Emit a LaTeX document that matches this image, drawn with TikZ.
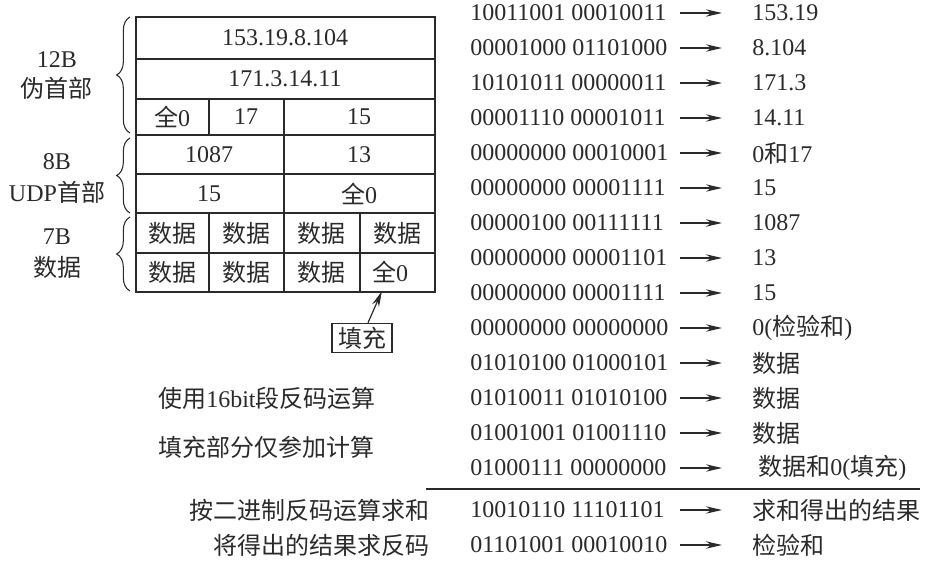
\documentclass[tikz,border=0pt]{standalone}
\usepackage{fontspec}
\setmainfont{Liberation Serif}
\newfontfamily\cjk{Noto Sans CJK SC}
\newcommand\zh[1]{{\cjk #1}}
\usetikzlibrary{arrows.meta,decorations.pathreplacing}
\definecolor{ink}{HTML}{2A2A2A}
\begin{document}
\begin{tikzpicture}[x=0.75pt,y=-0.75pt,
  font=\fontsize{18}{21}\selectfont, text=ink,
  tline/.style={draw=ink,line width=0.9pt},
  arr/.style={draw=ink,line width=0.9pt,-{Stealth[length=12pt,width=5.5pt]}},
  brc/.style={draw=ink,line width=0.8pt,decorate,decoration={brace,amplitude=10pt}},
  cell/.style={inner sep=0pt,anchor=center},
  lft/.style={inner sep=0pt,anchor=west},
  rgt/.style={inner sep=0pt,anchor=east}]
\useasboundingbox (0,0) rectangle (928,574);
% table frame
\draw[tline] (136,17) rectangle (435,292);
\foreach \yy in {59,99,135,174,213,253}
  \draw[tline] (136,\yy) -- (435,\yy);
\draw[tline] (209,99) -- (209,135);
\draw[tline] (284,99) -- (284,292);
\draw[tline] (209,213) -- (209,292);
\draw[tline] (360,213) -- (360,292);
% table texts
\node[cell] (t1) at (285,38) {153.19.8.104};
\node[cell] (t2) at (285,79) {171.3.14.11};
\node[cell] (t3a) at (172,117) {\zh{全}0};
\node[cell] (t3b) at (246,117) {17};
\node[cell] (t3c) at (359,117) {15};
\node[cell] (t4a) at (209,155) {1087};
\node[cell] (t4b) at (359,155) {13};
\node[cell] (t5a) at (209,194) {15};
\node[cell] (t5b) at (359,194) {\zh{全}0};
\node[cell] (t6a) at (172,233) {\zh{数据}};
\node[cell] (t6b) at (246,233) {\zh{数据}};
\node[cell] (t6c) at (321,233) {\zh{数据}};
\node[cell] (t6d) at (397,233) {\zh{数据}};
\node[cell] (t7a) at (172,272) {\zh{数据}};
\node[cell] (t7b) at (246,272) {\zh{数据}};
\node[cell] (t7c) at (321,272) {\zh{数据}};
\node[cell] (t7d) at (390,272) {\zh{全}0};
% braces
\draw[brc] (130,133) -- (130,17);
\draw[brc] (130,213) -- (130,138);
\draw[brc] (130,291) -- (130,217);
\node[cell] (l1a) at (57,60) {12B};
\node[cell] (l1b) at (57,88) {\zh{伪首部}};
\node[cell] (l2a) at (57,162) {8B};
\node[cell] (l2b) at (57,192) {UDP\zh{首部}};
\node[cell] (l3a) at (57,237) {7B};
\node[cell] (l3b) at (57,267) {\zh{数据}};
% fill box
\node[draw=ink,line width=0.9pt,inner sep=0pt,minimum width=45pt,minimum height=22pt] (fill) at (362,338) {\zh{填充}};
\coordinate (filltip) at (382,291);
\draw[arr] ([xshift=4.5pt]fill.north) -- (filltip);
% right column
\foreach \i/\b/\v in {
 0/10011001 00010011/153.19,
 1/00001000 01101000/8.104,
 2/10101011 00000011/171.3,
 3/00001110 00001011/14.11,
 4/00000000 00010001/0\zh{和}17,
 5/00000000 00001111/15,
 6/00000100 00111111/1087,
 7/00000000 00001101/13,
 8/00000000 00001111/15,
 9/00000000 00000000/0(\zh{检验和}),
 10/01010100 01000101/\zh{数据},
 11/01010011 01010100/\zh{数据},
 12/01001001 01001110/\zh{数据}}
{
  \pgfmathsetmacro\yy{13+35*\i}
  \node[lft] (b\i) at (470,\yy) {\b};
  \node[lft] (v\i) at (752,\yy) {\v};
  \coordinate (s\i) at (680,\yy);
  \coordinate (e\i) at (722,\yy);
  \draw[arr] (s\i) -- (e\i);
}
\node[lft] (b13) at (470,468) {01000111 00000000};
\node[lft] (v13) at (758,468) {\zh{数据和}0(\zh{填充})};
\coordinate (s13) at (680,468);
\coordinate (e13) at (722,468);
\draw[arr] (s13) -- (e13);
% sum line
\coordinate (ls) at (426,489);
\coordinate (le) at (920,489);
\draw[tline] (ls) -- (le);
\node[lft] (b14) at (470,510) {10010110 11101101};
\node[lft] (v14) at (752,510) {\zh{求和得出的结果}};
\coordinate (s14) at (680,510);
\coordinate (e14) at (722,510);
\draw[arr] (s14) -- (e14);
\node[lft] (b15) at (470,545) {01101001 00010010};
\node[lft] (v15) at (752,545) {\zh{检验和}};
\coordinate (s15) at (680,545);
\coordinate (e15) at (722,545);
\draw[arr] (s15) -- (e15);
% left notes
\node[lft] (n1) at (158,398) {\zh{使用}16bit\zh{段反码运算}};
\node[lft] (n2) at (158,447) {\zh{填充部分仅参加计算}};
\node[rgt] (n3) at (430,510) {\zh{按二进制反码运算求和}};
\node[rgt] (n4) at (430,545) {\zh{将得出的结果求反码}};
\end{tikzpicture}
\end{document}
